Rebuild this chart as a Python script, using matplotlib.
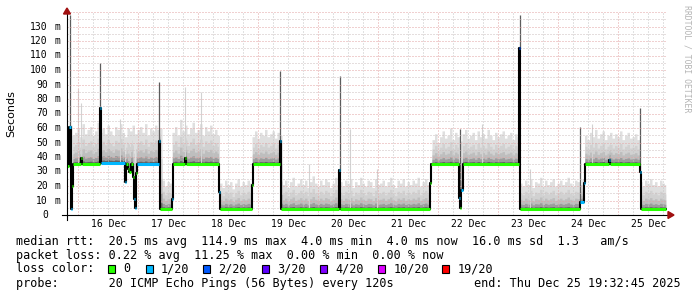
import numpy as np
import matplotlib
matplotlib.use("Agg")
import matplotlib.pyplot as plt
from matplotlib.patches import Rectangle, Polygon
from matplotlib.transforms import blended_transform_factory

# hours since graph start (Dec 15 19:32:45), 10 days shown
first_midnight = 4.454  # 16 Dec 00:00
day_labels = ["16 Dec", "17 Dec", "18 Dec", "19 Dec", "20 Dec",
              "21 Dec", "22 Dec", "23 Dec", "24 Dec", "25 Dec"]

# median rtt as a step function: change time (h), value (ms), loss level
med_t = [0.0, 0.8, 1.4, 2.0, 2.4, 5.4, 5.8, 13.0, 13.6, 23.0, 23.4, 24.2,
         24.8, 25.4, 26.2, 26.6, 27.0, 27.4, 27.8, 36.8, 37.2, 41.8, 42.2,
         47.2, 47.6, 60.6, 61.0, 73.8, 74.2, 85.0, 85.4, 108.8, 109.2,
         145.2, 145.6, 156.6, 157.0, 157.6, 158.2, 180.8, 181.2, 205.0,
         206.8, 207.2, 216.8, 217.2, 229.0, 229.4]
med_ms = [34, 61, 4, 20, 35, 39, 35, 74, 36, 23, 35, 32,
          30, 35, 26, 11, 5, 29, 35, 51, 4, 11, 35,
          39, 35, 16, 4, 21, 35, 51, 4, 31, 4,
          22, 35, 12, 4.5, 17, 35, 115, 4, 9,
          22, 35, 38, 35, 30, 4]
med_loss = [0, 1, 1, 0, 0, 0, 0, 1, 1, 1, 0, 0,
            0, 0, 0, 1, 1, 0, 1, 1, 0, 1, 0,
            0, 0, 1, 0, 0, 0, 1, 0, 1, 0,
            0, 0, 1, 0, 1, 0, 2, 0, 1,
            1, 0, 1, 0, 1, 0]
end_hour = 239.6

# smoke: highest ping per hour (ms)
smoke_top = [
    # h0-37
    58, 62, 55, 57, 60, 54, 63, 56, 59, 61, 55, 58, 64, 57, 60, 56, 62, 58, 55,
    61, 59, 63, 57, 54, 60, 58, 62, 56, 59, 61, 57, 63, 55, 60, 58, 62, 59, 60,
    # h38-41
    24, 20, 23, 22,
    # h42-60
    57, 61, 55, 66, 58, 62, 56, 60, 64, 57, 59, 63, 55, 61, 58, 62, 56, 59, 55,
    # h61-73
    22, 19, 24, 21, 23, 18, 22, 25, 20, 23, 21, 24, 22,
    # h74-85
    54, 58, 53, 57, 55, 59, 54, 56, 58, 53, 57, 55,
    # h86-145
    21, 24, 19, 23, 26, 20, 22, 25, 21, 24, 19, 23, 27, 22, 20,
    24, 21, 25, 23, 19, 22, 26, 21, 23, 20, 24, 22, 25, 19, 23,
    21, 26, 22, 20, 24, 23, 19, 25, 21, 22, 24, 20, 23, 26, 21,
    19, 24, 22, 25, 20, 23, 21, 24, 22, 26, 20, 23, 25, 21, 24,
    # h146-180
    52, 56, 50, 54, 58, 53, 55, 60, 52, 57, 54, 51, 56, 59, 53, 55, 57, 52,
    58, 54, 56, 53, 59, 55, 52, 57, 54, 56, 58, 53, 55, 57, 52, 56, 54,
    # h181-206
    22, 20, 24, 21, 25, 19, 23, 22, 26, 20, 24, 21, 23,
    25, 20, 22, 24, 21, 23, 26, 22, 20, 24, 23, 21, 25,
    # h207-228
    55, 52, 57, 54, 59, 53, 56, 58, 52, 55, 57, 53, 56, 54, 58, 52, 55, 57,
    53, 54, 56, 52,
    # h229-239
    23, 20, 24, 22, 25, 21, 23, 20, 24, 22, 21,
]

# tall single-sample spikes (h, ms) and faint smoke streaks
spike_t = [1.3, 13.1, 36.9, 85.3, 109.0, 157.0, 181.1, 205.3, 229.3]
spike_ms = [138, 105, 92, 99, 96, 59, 138, 61, 74]
streak_t = [4.4, 5.7, 21.3, 47.3, 53.5, 96.7, 113.3, 124.0, 166.0, 185.3, 210.0]
streak_ms = [87, 77, 66, 88, 85, 35, 59, 32, 63, 32, 63]

loss_labels = ["0", "1/20", "2/20", "3/20", "4/20", "10/20", "19/20"]
loss_colors = ["#26ff00", "#00b8ff", "#0059ff", "#5e00ff", "#7e00ff",
               "#dd00ff", "#ff0000"]

y_ticks = list(range(0, 140, 10))

legend_rows = [
    "median rtt:  20.5 ms avg  114.9 ms max  4.0 ms min  4.0 ms now  16.0 ms sd  1.3   am/s",
    "packet loss: 0.22 % avg  11.25 % max  0.00 % min  0.00 % now",
    "loss color:",
    "probe:       20 ICMP Echo Pings (56 Bytes) every 120s",
]
end_text = "end: Thu Dec 25 19:32:45 2025"

W, H = 697, 297
mono = "DejaVu Sans Mono"
fig = plt.figure(figsize=(W / 100, H / 100), dpi=100)
fig.patch.set_facecolor("white")
ax = fig.add_axes([67 / W, 82 / H, 600 / W, 203 / H])
ax.set_xlim(0, 240)
ax.set_ylim(0, 140)
for s in ax.spines.values():
    s.set_visible(False)

# smoke
t = np.arange(0, end_hour, 0.1)
idx = np.searchsorted(med_t, t, side="right") - 1
base = np.array(med_ms, dtype=float)[idx]
top = np.array(smoke_top, dtype=float)[np.minimum(t.astype(int), len(smoke_top) - 1)]
top = np.maximum(top, base)
layers = [(1.0, "#dfdfdf"), (0.62, "#d1d1d1"), (0.38, "#bebebe"),
          (0.2, "#9c9c9c"), (0.08, "#666666")]
for f, c in layers:
    ax.fill_between(t, base, base + f * (top - base), step="post",
                    color=c, lw=0, zorder=1)

# faint streaks and spikes
sidx = np.searchsorted(med_t, streak_t, side="right") - 1
ax.vlines(streak_t, np.array(med_ms)[sidx], streak_ms, color="#d2d2d2", lw=0.8, zorder=1)
pidx = np.searchsorted(med_t, spike_t, side="right") - 1
ax.vlines(spike_t, np.array(med_ms)[pidx], spike_ms, color="#5c5c5c", lw=0.9, zorder=2)

# grid on top of smoke
minor_col, major_col = "#cdbfbf", "#e3a3a3"
dots = (0, (1, 2))
for v in np.arange(5, 141, 10):
    ax.axhline(v, color=minor_col, lw=0.72, ls=dots, zorder=3)
for v in np.arange(10, 141, 10):
    ax.axhline(v, color=major_col, lw=0.72, ls=dots, zorder=3)
for h in np.arange(first_midnight - 6, 240, 6):
    if h <= 0:
        continue
    is_day = abs(((h - first_midnight) / 24) - round((h - first_midnight) / 24)) < 1e-6
    ax.axvline(h, color=major_col if is_day else "#c4c4c4", lw=0.72, ls=dots, zorder=3)

# median line coloured by loss
ax.step(med_t + [end_hour], med_ms + [med_ms[-1]], where="post",
        color="black", lw=1.5, zorder=4)
ends = med_t[1:] + [end_hour]
for t0, t1, v, l in zip(med_t, ends, med_ms, med_loss):
    ax.hlines(v, t0, t1, color=loss_colors[l], lw=2.2, zorder=5)

# axes lines and arrows
hx = 240 / 600  # hours per pixel
vy = 140 / 203  # ms per pixel
ax.plot([-5 * hx, 605 * hx], [0, 0], color="black", lw=0.8, clip_on=False, zorder=6)
ax.plot([0, 0], [-5 * vy, 201 * vy], color="black", lw=0.8, clip_on=False, zorder=6)
ax.add_patch(Polygon([(-3.5 * hx, 201 * vy), (3.5 * hx, 201 * vy), (0, 207 * vy)],
                     closed=True, color="#a01010", clip_on=False, zorder=7))
ax.add_patch(Polygon([(601 * hx, -3.5 * vy), (601 * hx, 3.5 * vy), (607 * hx, 0)],
                     closed=True, color="#a01010", clip_on=False, zorder=7))

# ticks
ax.set_xticks([first_midnight + 12 + 24 * k for k in range(len(day_labels))])
ax.set_xticklabels(day_labels, fontsize=7, family=mono)
ax.tick_params(axis="x", length=0, pad=3)
ax.set_yticks([])
tr = blended_transform_factory(fig.transFigure, ax.transData)
for v in y_ticks:
    ax.text(47.8 / W, v, str(v), transform=tr, ha="right", va="center",
            fontsize=7, family=mono)
    if v > 0:
        ax.text(60.5 / W, v, "m", transform=tr, ha="right", va="center",
                fontsize=7, family=mono)

fig.text(11 / W, 1 - 113.5 / H, "Seconds", rotation=90, ha="center", va="center",
         fontsize=8, family="DejaVu Sans")
fig.text(687.5 / W, 1 - 59 / H, "RRDTOOL / TOBI OETIKER", rotation=270,
         ha="center", va="center", fontsize=5.9, family=mono, color="#b4b4b4")

# legend
row_y = [241.3, 255.3, 269.0, 283.2]
for txt, y in zip(legend_rows, row_y):
    fig.text(16 / W, 1 - y / H, txt, ha="left", va="center", fontsize=8.5, family=mono)
fig.text(681 / W, 1 - row_y[3] / H, end_text, ha="right", va="center",
         fontsize=8.5, family=mono)
box_x = [108.3, 145.7, 203.3, 261.7, 320.0, 378.3, 442.3]
for bx, lab, col in zip(box_x, loss_labels, loss_colors):
    fig.patches.append(Rectangle((bx / W, 1 - 273.3 / H), 7 / W, 8.5 / H,
                                 transform=fig.transFigure, facecolor=col,
                                 edgecolor="black", lw=0.8))
    fig.text((bx + 15) / W, 1 - row_y[2] / H, lab, ha="left", va="center",
             fontsize=8.5, family=mono)

fig.savefig("out.png", dpi=100, facecolor="white")
